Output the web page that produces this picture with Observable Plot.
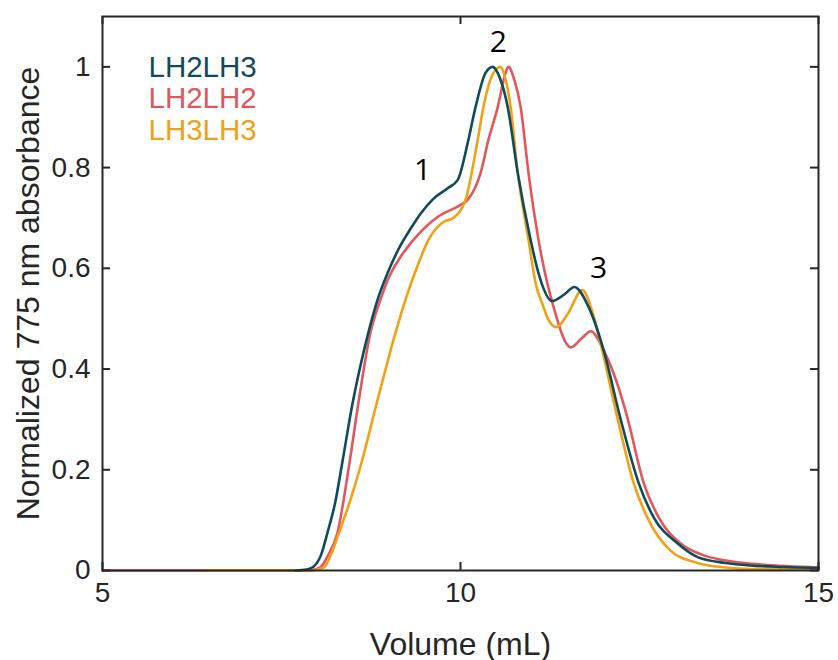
<!DOCTYPE html>
<html>
<head>
<meta charset="utf-8">
<script src="https://cdn.jsdelivr.net/npm/d3@7"></script>
<script src="https://cdn.jsdelivr.net/npm/@observablehq/plot@0.6"></script>
<style>
  html, body { margin: 0; padding: 0; background: #fff; }
  #chart { width: 838px; height: 660px; }
</style>
</head>
<body>
<div id="chart"></div>
<script>
// ---- data ----
const seriesNames = ["LH2LH3", "LH2LH2", "LH3LH3"];
const seriesColors = ["#0f4b59", "#e1575b", "#f0a115"];

const lh2lh3X = [7.7, 7.85, 7.95, 8.05, 8.14, 8.25, 8.35, 8.49, 8.60, 8.70, 8.84, 8.98, 9.16, 9.30, 9.45, 9.62, 9.82, 9.96, 10.11, 10.21, 10.35, 10.45, 10.55, 10.66, 10.80, 10.98, 11.09, 11.28, 11.45, 11.59, 11.79, 12.0, 12.23, 12.49, 12.70, 13.03, 13.32, 13.7, 14.05, 14.5, 15];
const lh2lh3Y = [0, 0.002, 0.008, 0.03, 0.074, 0.135, 0.215, 0.33, 0.405, 0.465, 0.537, 0.59, 0.645, 0.678, 0.71, 0.738, 0.759, 0.775, 0.855, 0.92, 0.988, 1.0, 0.978, 0.92, 0.789, 0.656, 0.59, 0.535, 0.548, 0.563, 0.523, 0.437, 0.304, 0.173, 0.105, 0.054, 0.026, 0.015, 0.01, 0.007, 0.005];

const lh2lh2X = [5, 7.9, 8.04, 8.15, 8.28, 8.44, 8.58, 8.74, 8.88, 8.98, 9.15, 9.34, 9.68, 10.0, 10.10, 10.28, 10.39, 10.52, 10.63, 10.67, 10.75, 10.84, 10.95, 11.09, 11.30, 11.54, 11.70, 11.82, 12.0, 12.21, 12.33, 12.56, 12.77, 13.07, 13.4, 13.8, 14.2, 15];
const lh2lh2Y = [0, 0, 0.006, 0.03, 0.074, 0.205, 0.338, 0.471, 0.537, 0.576, 0.62, 0.656, 0.702, 0.726, 0.736, 0.789, 0.855, 0.92, 0.988, 1.0, 0.975, 0.92, 0.789, 0.656, 0.523, 0.443, 0.462, 0.475, 0.437, 0.362, 0.304, 0.173, 0.105, 0.054, 0.03, 0.018, 0.012, 0.006];

const lh3lh3X = [6.45, 7.9, 8.09, 8.2, 8.30, 8.46, 8.60, 8.84, 9.09, 9.23, 9.40, 9.55, 9.76, 9.90, 10.07, 10.24, 10.32, 10.46, 10.56, 10.63, 10.70, 10.80, 10.95, 11.05, 11.16, 11.22, 11.34, 11.5, 11.70, 11.85, 11.98, 12.19, 12.42, 12.61, 12.93, 13.31, 13.7, 14.05, 15];
const lh3lh3Y = [0, 0, 0.006, 0.035, 0.074, 0.139, 0.205, 0.338, 0.471, 0.537, 0.605, 0.656, 0.692, 0.70, 0.736, 0.855, 0.92, 0.988, 1.0, 0.975, 0.92, 0.789, 0.656, 0.57, 0.523, 0.50, 0.483, 0.51, 0.557, 0.51, 0.437, 0.304, 0.173, 0.105, 0.04, 0.015, 0.006, 0.003, 0.002];

const xTicks = [5, 10, 15];
const yTicks = [0, 0.2, 0.4, 0.6, 0.8, 1];
const yTickLabels = ["0", "0.2", "0.4", "0.6", "0.8", "1"];

const annoLabels = ["1", "2", "3"];
const annoX = [9.47, 10.53, 11.93];
const annoY = [0.794, 1.048, 0.60];

const xLabel = "Volume (mL)";
const yLabel = "Normalized 775 nm absorbance";

// ---- build rows ----
const seriesXs = [lh2lh3X, lh2lh2X, lh3lh3X];
const seriesYs = [lh2lh3Y, lh2lh2Y, lh3lh3Y];
const rows = [];
// draw order: red, orange, teal (teal on top)
[1, 2, 0].forEach(si => {
  seriesXs[si].forEach((x, i) => rows.push({series: seriesNames[si], x, y: seriesYs[si][i]}));
});
const annos = annoLabels.map((t, i) => ({t, x: annoX[i], y: annoY[i]}));

const xDomain = [5, 15];
const yDomain = [0, 1.1];
const W = 838, H = 660, mL = 102, mR = 20, mT = 16, mB = 90;
const tickPx = 8;
const tx = tickPx * (xDomain[1] - xDomain[0]) / (W - mL - mR);
const ty = tickPx * (yDomain[1] - yDomain[0]) / (H - mT - mB);

const axisFont = "'Liberation Sans', Arial, sans-serif";
const frameColor = "#262626";

const chart = Plot.plot({
  width: W, height: H,
  marginLeft: mL, marginRight: mR, marginTop: mT, marginBottom: mB,
  style: {fontFamily: axisFont, background: "#fff", color: frameColor},
  x: {domain: xDomain},
  y: {domain: yDomain},
  color: {domain: seriesNames, range: seriesColors},
  marks: [
    Plot.lineY(rows, {x: "x", y: "y", z: "series", stroke: "series", strokeWidth: 2.6, curve: "monotone-x"}),
    Plot.frame({stroke: frameColor, strokeWidth: 2}),
    // inward ticks on all four sides
    Plot.ruleX(xTicks, {x: d => d, y1: yDomain[0], y2: yDomain[0] + ty, stroke: frameColor, strokeWidth: 2}),
    Plot.ruleX(xTicks, {x: d => d, y1: yDomain[1] - ty, y2: yDomain[1], stroke: frameColor, strokeWidth: 2}),
    Plot.ruleY(yTicks, {y: d => d, x1: xDomain[0], x2: xDomain[0] + tx, stroke: frameColor, strokeWidth: 2}),
    Plot.ruleY(yTicks, {y: d => d, x1: xDomain[1] - tx, x2: xDomain[1], stroke: frameColor, strokeWidth: 2}),
    Plot.axisX({ticks: xTicks, tickSize: 0, tickPadding: 12, fontSize: 28, label: null, tickFormat: d => String(d)}),
    Plot.axisY({ticks: yTicks, tickSize: 0, tickPadding: 12, fontSize: 28, label: null, tickFormat: (d, i) => yTickLabels[i]}),
    Plot.axisX({ticks: [], tickSize: 0, label: xLabel, labelAnchor: "center", labelOffset: 84, labelArrow: "none", fontSize: 32}),
    Plot.axisY({ticks: [], tickSize: 0, label: yLabel, labelAnchor: "center", labelOffset: 86, labelArrow: "none", fontSize: 32}),
    Plot.text(annos, {x: "x", y: "y", text: "t", fontSize: 30, fill: "#000", fontFamily: "'Open Sans', sans-serif", lineAnchor: "middle"}),
    ...seriesNames.map((n, i) => Plot.text([n], {
      frameAnchor: "top-left", dx: 46, dy: 51 + i * 31.5, text: d => d,
      fill: seriesColors[i], fontSize: 29.5, textAnchor: "start", lineAnchor: "middle"
    }))
  ]
});
document.getElementById("chart").appendChild(chart);
</script>
</body>
</html>
